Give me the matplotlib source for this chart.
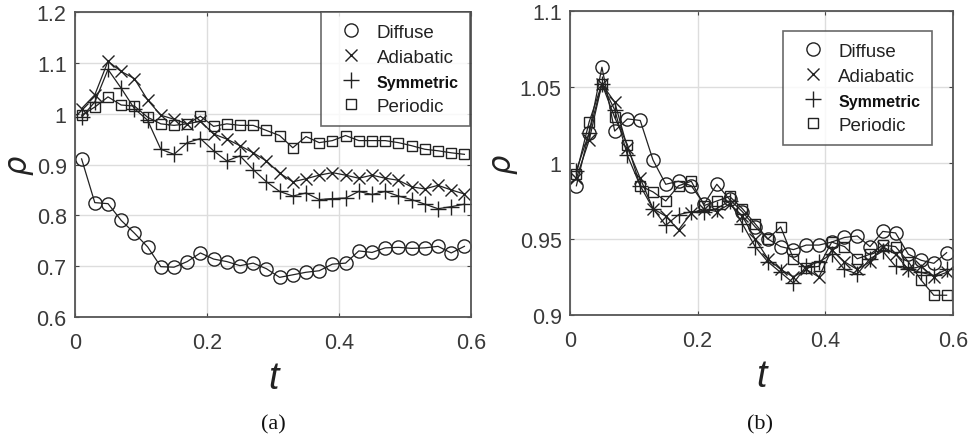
import matplotlib
matplotlib.use("Agg")
import matplotlib.pyplot as plt
from matplotlib.lines import Line2D
import numpy as np

# ---- data ----
t = [0.01, 0.03, 0.05, 0.07, 0.09, 0.11, 0.13, 0.15, 0.17, 0.19,
     0.21, 0.23, 0.25, 0.27, 0.29, 0.31, 0.33, 0.35, 0.37, 0.39,
     0.41, 0.43, 0.45, 0.47, 0.49, 0.51, 0.53, 0.55, 0.57, 0.59]

a_diffuse = [0.911, 0.825, 0.823, 0.790, 0.765, 0.738, 0.699, 0.698, 0.709, 0.726,
             0.714, 0.709, 0.701, 0.706, 0.695, 0.678, 0.683, 0.688, 0.691, 0.704,
             0.706, 0.730, 0.727, 0.736, 0.737, 0.735, 0.736, 0.739, 0.726, 0.739]
a_adiabatic = [1.010, 1.037, 1.103, 1.083, 1.069, 1.027, 0.997, 0.989, 0.980, 0.985,
               0.960, 0.950, 0.937, 0.923, 0.907, 0.883, 0.866, 0.872, 0.879, 0.884,
               0.879, 0.873, 0.879, 0.873, 0.869, 0.856, 0.852, 0.859, 0.850, 0.842]
a_symmetric = [0.993, 1.023, 1.087, 1.050, 1.010, 0.987, 0.930, 0.920, 0.943, 0.951,
               0.927, 0.907, 0.917, 0.890, 0.866, 0.847, 0.838, 0.844, 0.831, 0.833,
               0.834, 0.847, 0.841, 0.847, 0.838, 0.831, 0.822, 0.813, 0.817, 0.822]
a_periodic = [0.997, 1.013, 1.033, 1.017, 1.015, 0.993, 0.980, 0.977, 0.980, 0.995,
              0.975, 0.980, 0.977, 0.977, 0.967, 0.957, 0.933, 0.955, 0.943, 0.947,
              0.957, 0.947, 0.947, 0.947, 0.943, 0.937, 0.930, 0.927, 0.923, 0.920]

b_diffuse = [0.985, 1.020, 1.063, 1.021, 1.029, 1.028, 1.002, 0.986, 0.988, 0.985,
             0.973, 0.986, 0.976, 0.968, 0.958, 0.950, 0.945, 0.943, 0.946, 0.946,
             0.948, 0.951, 0.952, 0.945, 0.955, 0.954, 0.940, 0.936, 0.934, 0.941]
b_adiabatic = [0.990, 1.015, 1.052, 1.040, 1.010, 0.990, 0.970, 0.965, 0.956, 0.967,
               0.970, 0.968, 0.973, 0.965, 0.950, 0.937, 0.930, 0.925, 0.930, 0.925,
               0.943, 0.935, 0.930, 0.935, 0.945, 0.940, 0.930, 0.932, 0.925, 0.928]
b_symmetric = [0.995, 1.020, 1.052, 1.035, 1.005, 0.985, 0.970, 0.959, 0.966, 0.968,
               0.968, 0.970, 0.975, 0.960, 0.945, 0.935, 0.928, 0.921, 0.932, 0.935,
               0.940, 0.930, 0.927, 0.937, 0.942, 0.932, 0.930, 0.928, 0.926, 0.930]
b_periodic = [0.993, 1.027, 1.052, 1.030, 1.012, 0.985, 0.981, 0.975, 0.985, 0.988,
              0.972, 0.975, 0.978, 0.970, 0.960, 0.950, 0.958, 0.937, 0.931, 0.932,
              0.948, 0.945, 0.937, 0.940, 0.946, 0.945, 0.935, 0.923, 0.913, 0.913]

labels = ["Diffuse", "Adiabatic", "Symmetric", "Periodic"]
markers = ["o", "x", "+", "s"]
msizes = [9.5, 8, 11, 7.5]

a_ticks_y = [0.6, 0.7, 0.8, 0.9, 1.0, 1.1, 1.2]
a_ticklabels_y = ["0.6", "0.7", "0.8", "0.9", "1", "1.1", "1.2"]
b_ticks_y = [0.9, 0.95, 1.0, 1.05, 1.1]
b_ticklabels_y = ["0.9", "0.95", "1", "1.05", "1.1"]
x_ticks = [0, 0.2, 0.4, 0.6]
x_ticklabels = ["0", "0.2", "0.4", "0.6"]

fig = plt.figure(figsize=(9.69, 4.39), dpi=100)
ax1 = fig.add_axes([75/969, 1-318/439, 396/969, 305/439])
ax2 = fig.add_axes([570/969, 1-316/439, 383/969, 304/439])

ink = "#222222"

def style(ax, series, yt, ytl, ylim, leg_anchor):
    for s, lab, m, ms in zip(series, labels, markers, msizes):
        ax.plot(t, s, color=ink, lw=0.9, marker=m, ms=ms, mfc="none",
                mec=ink, mew=1.0)
    ax.set_xlim(0, 0.6)
    ax.set_ylim(*ylim)
    ax.set_xticks(x_ticks)
    ax.set_xticklabels(x_ticklabels)
    ax.set_yticks(yt)
    ax.set_yticklabels(ytl)
    ax.grid(True, color="#dddddd", lw=1.0)
    ax.set_axisbelow(True)
    ax.tick_params(direction="in", length=3, width=0.8, top=True, right=True,
                   colors="#444444", labelcolor="#3a3a3a", labelsize=15.5)
    ax.tick_params(axis="x", pad=10.5)
    ax.tick_params(axis="y", pad=6)
    for lb in ax.get_xticklabels() + ax.get_yticklabels():
        lb.set_family("Liberation Sans")
    for sp in ax.spines.values():
        sp.set_color("#555555")
        sp.set_linewidth(1.3)
    ax.set_xlabel("t", fontsize=27, style="italic", family="Liberation Sans",
                  color="#222222", labelpad=5)
    ax.set_ylabel("ρ", fontsize=22, style="italic", family="DejaVu Sans",
                  color="#222222", labelpad=2)
    handles = [Line2D([], [], ls="none", marker=m, ms=ms, mfc="none", mec=ink,
                      mew=1.0, label=lab) for lab, m, ms in zip(labels, markers, msizes)]
    leg = ax.legend(handles=handles, loc="upper right", bbox_to_anchor=leg_anchor,
                    frameon=True, fancybox=False, edgecolor="#444444",
                    prop={"family": "Liberation Sans", "size": 13.5},
                    handlelength=2.0, handletextpad=0.35, borderpad=0.62,
                    labelspacing=0.42, borderaxespad=0)
    leg.get_frame().set_linewidth(1.2)
    for txt in leg.get_texts():
        txt.set_color("#222222")
        if txt.get_text() == "Symmetric":
            txt.set_fontweight("bold")
            txt.set_fontsize(11.5)
            txt.set_color("#111111")

style(ax1, [a_diffuse, a_adiabatic, a_symmetric, a_periodic],
      a_ticks_y, a_ticklabels_y, (0.6, 1.2), (0.998, 1.0))
style(ax2, [b_diffuse, b_adiabatic, b_symmetric, b_periodic],
      b_ticks_y, b_ticklabels_y, (0.9, 1.1), (0.945, 0.935))

fig.text(273/969, 1-425/439, "(a)", ha="center", va="center",
         family="Liberation Serif", fontsize=16, color="#111111")
fig.text(760/969, 1-425/439, "(b)", ha="center", va="center",
         family="Liberation Serif", fontsize=16, color="#111111")

fig.savefig("out.png", dpi=100, facecolor="white")
